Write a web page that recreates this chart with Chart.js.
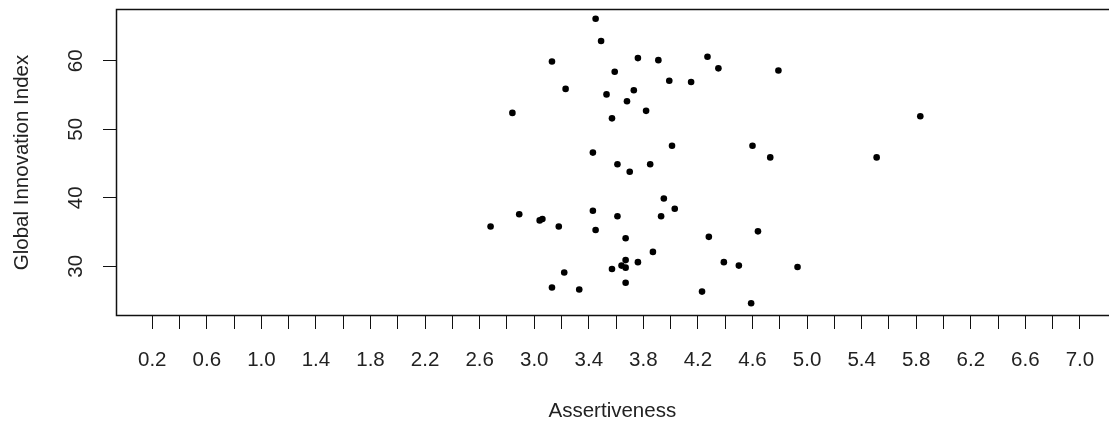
<!DOCTYPE html>
<html>
<head>
<meta charset="utf-8">
<script src="https://cdn.jsdelivr.net/npm/chart.js@4/dist/chart.umd.min.js"></script>
<style>
  html, body { margin: 0; padding: 0; background: #ffffff; overflow: hidden; }
  #wrap { width: 1109px; height: 427px; overflow: hidden; }
</style>
</head>
<body>
<div id="wrap"><canvas id="c" width="1112" height="427"></canvas></div>
<script>
// Assertiveness (x) and Global Innovation Index (y)
const assertiveness = [
  3.45, 3.49, 3.13, 3.76, 3.91, 3.59, 3.99, 3.23, 3.53, 3.73,
  3.68, 2.84, 3.82, 3.57, 3.43, 3.61, 3.70, 3.85, 3.95, 2.89,
  3.04, 3.06, 2.68, 3.18, 3.43, 3.61, 3.93, 3.45, 3.67, 3.87,
  3.76, 3.67, 3.64, 3.67, 3.57, 3.22, 3.67, 3.13, 3.33, 4.27,
  4.35, 4.15, 4.79, 5.83, 4.01, 4.60, 4.73, 5.51, 4.03, 4.28,
  4.64, 4.39, 4.50, 4.93, 4.23, 4.59
];
const innovationIndex = [
  66.15, 62.9, 59.9, 60.4, 60.1, 58.4, 57.1, 55.9, 55.1, 55.7,
  54.1, 52.4, 52.7, 51.6, 46.6, 44.9, 43.8, 44.9, 39.9, 37.6,
  36.7, 36.9, 35.8, 35.8, 38.1, 37.3, 37.3, 35.3, 34.1, 32.1,
  30.6, 30.9, 30.1, 29.8, 29.6, 29.1, 27.6, 26.9, 26.6, 60.6,
  58.9, 56.9, 58.6, 51.9, 47.6, 47.6, 45.9, 45.9, 38.4, 34.3,
  35.1, 30.6, 30.1, 29.9, 26.3, 24.6
];
const xTickValues = [0.2,0.4,0.6,0.8,1.0,1.2,1.4,1.6,1.8,2.0,2.2,2.4,2.6,2.8,3.0,3.2,3.4,3.6,3.8,4.0,4.2,4.4,4.6,4.8,5.0,5.2,5.4,5.6,5.8,6.0,6.2,6.4,6.6,6.8,7.0];
const xTickLabels = ["0.2","","0.6","","1.0","","1.4","","1.8","","2.2","","2.6","","3.0","","3.4","","3.8","","4.2","","4.6","","5.0","","5.4","","5.8","","6.2","","6.6","","7.0"];
const yTickValues = [30, 40, 50, 60];
const yTickLabels = ["30", "40", "50", "60"];
const xTitle = "Assertiveness";
const yTitle = "Global Innovation Index";

const points = assertiveness.map((x, i) => ({ x: x, y: innovationIndex[i] }));
const FONT = "'Liberation Sans', Arial, Helvetica, sans-serif";
const TXT = '#222222';
const FS = 20.5;

const boxPlugin = {
  id: 'rbox',
  afterDraw(chart) {
    const a = chart.chartArea, ctx = chart.ctx;
    ctx.save();
    ctx.strokeStyle = '#111';
    ctx.lineWidth = 1.5;
    ctx.strokeRect(a.left + 0.5, a.top + 0.5, a.right - a.left + 1, a.bottom - a.top - 1);
    ctx.restore();
  }
};

function noPad(scale) {
  scale.paddingTop = 0; scale.paddingBottom = 0;
  scale.paddingLeft = 0; scale.paddingRight = 0;
}

new Chart(document.getElementById('c'), {
  type: 'scatter',
  data: {
    datasets: [{
      data: points,
      pointRadius: 3.3,
      pointHoverRadius: 3.3,
      backgroundColor: '#000',
      borderWidth: 0,
      pointStyle: 'circle'
    }]
  },
  options: {
    responsive: false,
    animation: false,
    events: [],
    layout: { padding: { top: 9, right: 2, left: 0, bottom: 0 } },
    plugins: { legend: { display: false }, tooltip: { enabled: false } },
    scales: {
      x: {
        type: 'linear',
        min: -0.0657,
        max: 7.211,
        afterBuildTicks(scale) { scale.ticks = xTickValues.map(v => ({ value: v })); },
        afterFit(scale) { scale.height = 111; noPad(scale); },
        border: { display: false },
        grid: { drawOnChartArea: false, drawTicks: true, tickLength: 13, tickColor: '#111', tickWidth: 1 },
        ticks: {
          autoSkip: false, maxRotation: 0, minRotation: 0, padding: 19,
          color: TXT, font: { family: FONT, size: FS },
          callback(value, index) { return xTickLabels[index]; }
        },
        title: { display: true, text: xTitle, color: TXT, font: { family: FONT, size: FS }, padding: { top: 0, bottom: 3 } }
      },
      y: {
        type: 'linear',
        min: 22.74,
        max: 67.57,
        afterBuildTicks(scale) { scale.ticks = yTickValues.map(v => ({ value: v })); },
        afterFit(scale) { scale.width = 116; noPad(scale); },
        border: { display: false },
        grid: { drawOnChartArea: false, drawTicks: true, tickLength: 13, tickColor: '#111', tickWidth: 1 },
        ticks: {
          autoSkip: false, minRotation: 90, maxRotation: 90, crossAlign: 'center', padding: 15,
          color: TXT, font: { family: FONT, size: FS },
          callback(value, index) { return yTickLabels[index]; }
        },
        title: { display: true, text: yTitle, color: TXT, font: { family: FONT, size: FS }, padding: { top: 10, bottom: 0 } }
      }
    }
  },
  plugins: [boxPlugin]
});
</script>
</body>
</html>
